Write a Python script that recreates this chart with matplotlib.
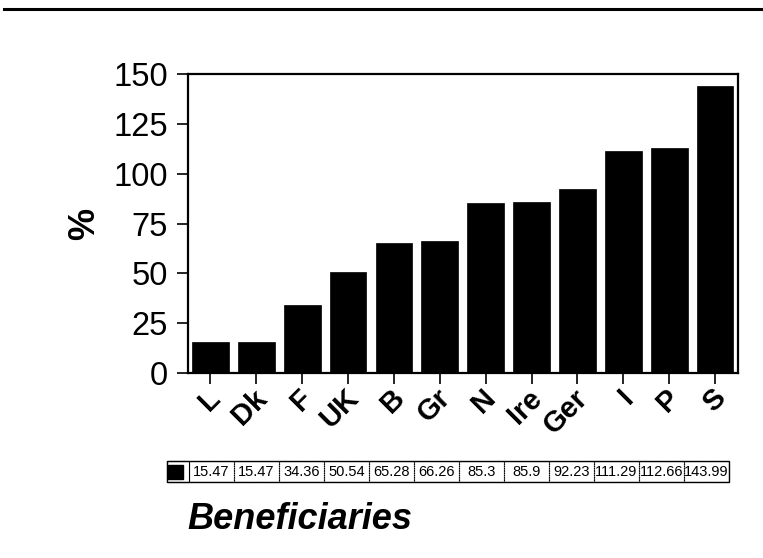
#!/usr/bin/env python3
import matplotlib
matplotlib.use('Agg')
import matplotlib.pyplot as plt
import matplotlib.transforms as mtransforms
from matplotlib.patches import Rectangle
from matplotlib.lines import Line2D

# data
countries = ['L', 'Dk', 'F', 'UK', 'B', 'Gr', 'N', 'Ire', 'Ger', 'I', 'P', 'S']
values = [15.47, 15.47, 34.36, 50.54, 65.28, 66.26, 85.3, 85.9, 92.23, 111.29, 112.66, 143.99]
yticks = [0, 25, 50, 75, 100, 125, 150]
ylabel = '%'
title = 'Beneficiaries'

plt.rcParams['font.family'] = ['Liberation Sans', 'DejaVu Sans']

W, H = 763, 558
fig = plt.figure(figsize=(W / 100, H / 100), dpi=100)

def box(x0, y0, x1, y1):
    # pixel box -> figure fraction [left, bottom, width, height]
    return [x0 / W, 1 - y1 / H, (x1 - x0) / W, (y1 - y0) / H]

ax = fig.add_axes(box(187.5, 74, 738, 373))
x = list(range(len(countries)))
ax.bar(x, values, width=0.8, color='black', edgecolor='black', linewidth=0.5)
ax.set_xlim(-0.5, len(countries) - 0.5)
ax.set_ylim(0, 150)
ax.tick_params(axis='both', direction='out', length=8, width=1.2, pad=4)
ax.tick_params(axis='y', pad=6)
ax.set_yticks(yticks)
ax.set_yticklabels([str(t) for t in yticks], fontsize=23.5)
ax.set_xticks(x)
ax.set_xticklabels(countries, fontsize=21, fontweight='bold', rotation=45,
                   ha='right', va='center', rotation_mode='anchor')
# nudge the rotated labels so their ends sit just right of the ticks
offset = mtransforms.ScaledTranslation(6 / 100, -4 / 100, fig.dpi_scale_trans)
for lab in ax.xaxis.get_majorticklabels():
    lab.set_transform(lab.get_transform() + offset)
for sp in ax.spines.values():
    sp.set_linewidth(1.6)
ax.set_ylabel(ylabel, fontsize=26, fontweight='bold', labelpad=8)

# data table under the chart
tax = fig.add_axes(box(189, 461, 729, 482))
tax.set_xlim(0, len(values))
tax.set_ylim(0, 1)
tax.axis('off')
for i, v in enumerate(values):
    tax.add_patch(Rectangle((i, 0), 1, 1, facecolor='none', edgecolor='black',
                            linewidth=0.8, linestyle=(0, (1, 0.6))))
    tax.text(i + 0.5, 0.5, f'{v:g}', ha='center', va='center', fontsize=10.5)
key_w = 22 / 45
tax.add_patch(Rectangle((-key_w, 0), key_w, 1, facecolor='none', edgecolor='black',
                        linewidth=0.8, clip_on=False))
tax.add_patch(Rectangle((-key_w + 0.03, 0.15), 0.33, 0.68, facecolor='black',
                        edgecolor='black', clip_on=False))
tax.add_patch(Rectangle((-key_w, 0), key_w + len(values), 1, facecolor='none',
                        edgecolor='black', linewidth=1.0, clip_on=False))

fig.text(187 / W, 1 - 529 / H, title, fontsize=26, fontweight='bold',
         fontstyle='italic', ha='left', va='baseline')

# heavy rule across the top of the page
fig.add_artist(Line2D([0.005, 1.0], [1 - 8.5 / H, 1 - 8.5 / H], color='black',
                      linewidth=2.2, transform=fig.transFigure))

fig.savefig('out.png', dpi=100)
